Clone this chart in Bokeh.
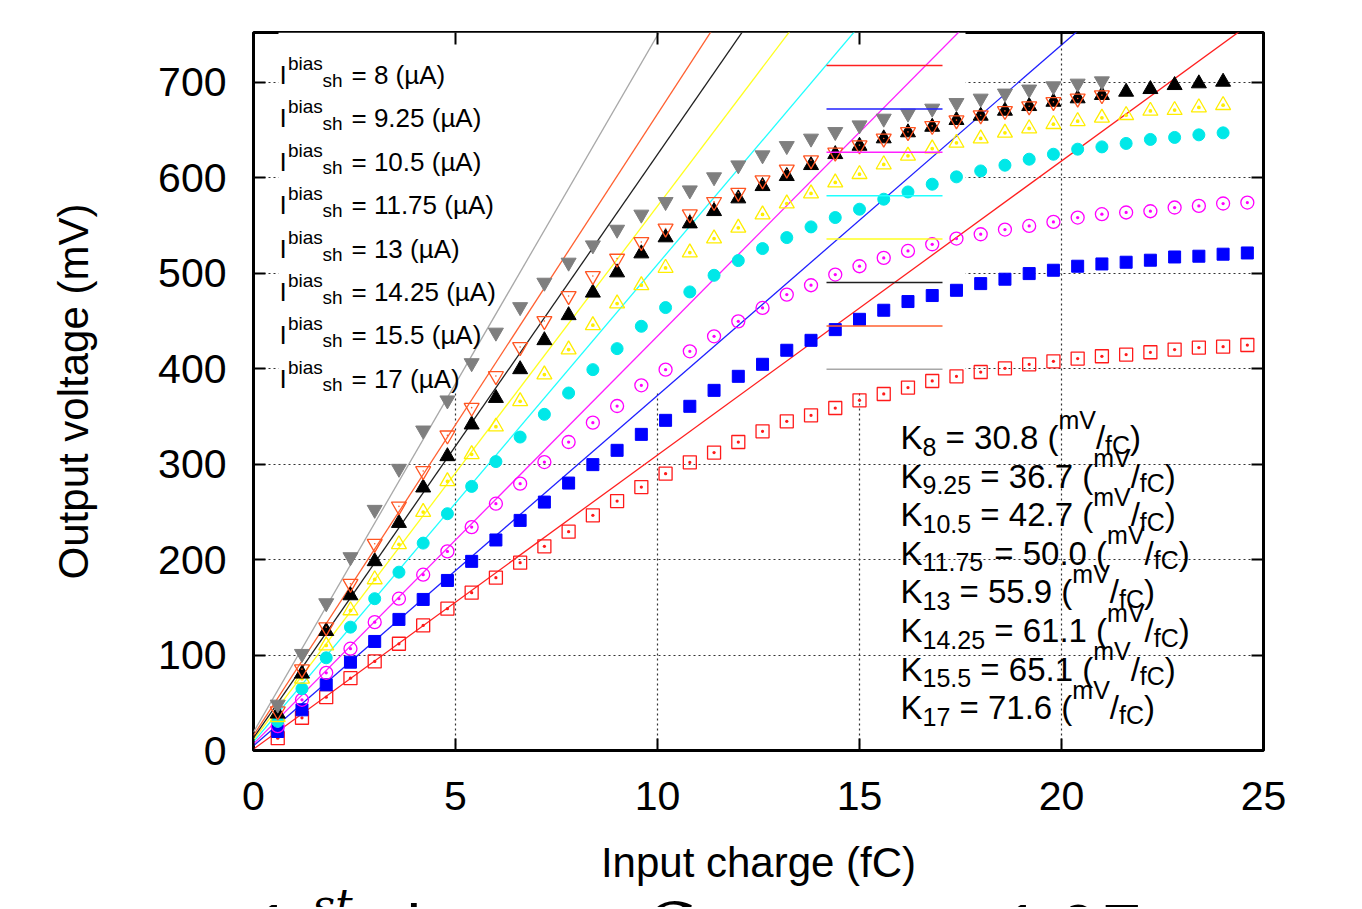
from bokeh.plotting import figure
from bokeh.layouts import column
from bokeh.models import Range1d, LinearAxis, FixedTicker, Label
from bokeh.core.properties import value
from bokeh.embed import file_html
from bokeh.resources import INLINE

# ---------------- data ----------------
charge_fc = [0.6, 1.2, 1.8, 2.4, 3.0, 3.6, 4.2, 4.8, 5.4, 6.0, 6.6, 7.2, 7.8, 8.4,
             9.0, 9.6, 10.2, 10.8, 11.4, 12.0, 12.6, 13.2, 13.8, 14.4, 15.0, 15.6,
             16.2, 16.8, 17.4, 18.0, 18.6, 19.2, 19.8, 20.4, 21.0, 21.6, 22.2, 22.8,
             23.4, 24.0, 24.6]

bias_labels = ["8", "9.25", "10.5", "11.75", "13", "14.25", "15.5", "17"]
gain_labels = ["30.8", "36.7", "42.7", "50.0", "55.9", "61.1", "65.1", "71.6"]
fit_slope = [30.8, 36.7, 42.7, 50.0, 55.9, 61.1, 65.1, 73.0]
fit_intercept = [1.4, 4.9, 7.0, 9.1, 11.2, 13.3, 15.7, 19.2]

v_8 = [12.9, 34.3, 55.9, 75.8, 93.3, 111.8, 131.0, 148.5, 165.3, 181.0, 196.7, 213.8,
       229.2, 246.3, 261.2, 275.9, 289.9, 301.8, 312.0, 323.1, 334.3, 344.8, 351.0,
       358.7, 366.8, 373.4, 380.1, 387.0, 391.9, 396.4, 400.3, 404.5, 407.6, 410.5,
       412.9, 414.7, 417.1, 419.9, 422.0, 423.0, 424.7]
v_9_25 = [19.9, 42.6, 68.8, 92.5, 114.2, 137.3, 158.2, 178.1, 198.1, 220.5, 241.0,
          260.2, 280.1, 299.4, 314.4, 331.1, 345.8, 360.5, 377.2, 391.9, 404.5, 419.2,
          429.6, 440.8, 451.6, 461.1, 470.2, 476.5, 482.0, 489.0, 493.6, 499.5, 503.0,
          507.2, 509.6, 511.4, 513.5, 516.9, 517.7, 519.8, 521.1]
v_10_5 = [25.5, 53.1, 81.4, 106.6, 134.4, 159.0, 184.1, 208.5, 234.0, 258.5, 279.5,
          302.1, 323.1, 343.4, 360.8, 382.5, 398.9, 418.1, 433.8, 449.5, 463.5, 477.5,
          487.3, 498.5, 507.2, 515.9, 523.2, 530.2, 536.2, 540.7, 545.6, 549.4, 553.6,
          558.2, 561.7, 563.5, 564.8, 568.7, 570.4, 572.9, 573.9]
v_11_75 = [30.5, 64.7, 97.1, 129.2, 159.0, 186.8, 217.2, 248.0, 276.6, 302.6, 328.3,
           352.1, 374.4, 398.9, 420.9, 444.3, 463.9, 480.3, 497.7, 513.1, 525.7, 537.2,
           548.4, 558.2, 566.9, 577.4, 585.0, 593.1, 600.8, 607.0, 613.0, 619.3, 624.5,
           629.8, 632.2, 635.8, 640.0, 642.1, 644.8, 646.9]
v_13 = [34.9, 75.1, 110.0, 146.7, 179.2, 215.9, 249.7, 281.9, 310.2, 339.2, 365.7,
        393.7, 419.9, 445.4, 468.1, 487.3, 505.4, 521.5, 536.2, 547.5, 561.4, 572.9,
        583.4, 594.9, 603.6, 613.8, 622.8, 630.5, 636.4, 641.0, 646.9, 651.5, 656.0,
        659.1, 662.6, 665.4, 669.9, 670.7, 673.5, 675.9]
v_14_25 = [38.5, 80.4, 125.0, 162.4, 198.1, 238.2, 275.3, 308.1, 341.3, 369.1, 399.2,
           429.6, 455.8, 479.4, 500.6, 520.5, 537.3, 551.9, 564.8, 578.1, 591.0, 601.5,
           613.0, 624.5, 633.2, 641.0, 647.3, 653.1, 660.2, 664.7, 669.9, 674.8, 679.3,
           682.9, 686.4, 689.8, 692.6, 696.8, 698.6, 700.3]
v_15_5 = [41.2, 85.2, 129.2, 174.7, 216.6, 255.7, 292.7, 330.1, 359.1, 392.2, 422.6,
          449.9, 476.0, 497.0, 515.2, 532.6, 546.7, 561.7, 574.6, 584.2, 597.3, 608.5,
          618.3, 626.3, 634.0, 641.0, 647.9, 654.2, 660.2, 665.4, 669.9, 674.8, 679.3,
          682.9, 686.4]
v_17 = [48.2, 101.3, 154.4, 202.6, 252.2, 295.2, 335.3, 366.8, 405.8, 437.8, 464.5,
        490.1, 511.1, 529.2, 545.6, 561.4, 574.6, 586.8, 600.5, 613.0, 623.5, 633.2,
        641.0, 647.9, 654.9, 661.9, 667.2, 672.4, 678.3, 682.9, 688.2, 692.4, 695.8,
        698.6, 701.0]

series_values = [v_8, v_9_25, v_10_5, v_11_75, v_13, v_14_25, v_15_5, v_17]

x_ticks = [0, 5, 10, 15, 20, 25]
y_ticks = [0, 100, 200, 300, 400, 500, 600, 700]

x_title = "Input charge (fC)"
y_title = "Output voltage (mV)"

# ---------------- styles ----------------
point_colors = ["#ff1a1a", "#0000ff", "#ff00ff", "#00e8e8", "#ffee00", "#000000", "#ff5522", "#7f7f7f"]
line_colors = ["#ff2020", "#2020ff", "#ff20ff", "#20ffff", "#ffff20", "#202020", "#ff6030", "#a8a8a8"]
markers = ["square_dot", "square", "circle_dot", "circle", "triangle_dot", "triangle",
           "inverted_triangle", "inverted_triangle"]
filled = [False, True, False, True, False, True, False, True]
sizes = [13, 12, 13, 12, 15, 15, 15, 15]

FONT = "Liberation Sans"
W = 1362
H1 = 830          # main figure height
H2 = 77           # caption strip height

# page-pixel geometry of the plotting frame (for annotation placement only)
FL, FT, FR, FB = 253, 32, 1263, 750
X_MAX, Y_MAX = 25.0, 752.0


def dx(px):
    return (px - FL) * X_MAX / (FR - FL)


def dy(py):
    return (FB - py) * Y_MAX / (FB - FT)


AW = {' ': 278, '(': 333, ')': 333, '.': 278, '/': 278, '=': 584, 'K': 667, 'V': 667,
      'C': 722, 'm': 833, 'f': 278, 'A': 667}


def tw(s, size):
    return sum(AW.get(c, 556) for c in s) * size / 1000.0


def lab(px, py, txt, size, font=FONT, style="normal"):
    lead = len(txt) - len(txt.lstrip(" "))
    return Label(x=dx(px + tw(" " * lead, size)), y=dy(py), text=txt.strip(" "),
                 text_font=font, text_font_size="%gpx" % size, text_font_style=style,
                 text_color="black", text_baseline="alphabetic", text_align="left")


p = figure(width=W, height=H1, x_range=Range1d(0, X_MAX), y_range=Range1d(0, Y_MAX),
           output_backend="svg", toolbar_location=None,
           min_border_left=FL, min_border_right=W - FR,
           min_border_top=FT, min_border_bottom=H1 - FB)
p.background_fill_color = "white"
p.border_fill_color = "white"
p.outline_line_color = "black"
p.outline_line_width = 3

# axes
for ax in (p.xaxis[0], p.yaxis[0]):
    ax.axis_line_color = None
    ax.major_tick_in = 12
    ax.major_tick_out = 0
    ax.major_tick_line_width = 2
    ax.minor_tick_line_color = None
    ax.major_label_text_font = FONT
    ax.major_label_text_font_size = "41px"
    ax.major_label_text_color = "black"
    ax.axis_label_text_font = FONT
    ax.axis_label_text_font_size = "42px"
    ax.axis_label_text_font_style = "normal"
    ax.axis_label_text_color = "black"
p.xaxis.ticker = FixedTicker(ticks=x_ticks)
p.yaxis.ticker = FixedTicker(ticks=y_ticks)
p.yaxis.axis_label = y_title
p.xaxis.major_label_standoff = 31
p.yaxis.major_label_standoff = 27
p.yaxis.axis_label_standoff = 58

for loc, tks in (("right", y_ticks), ("above", x_ticks)):
    ax = LinearAxis(ticker=FixedTicker(ticks=tks), axis_line_color=None,
                    major_tick_in=12, major_tick_out=0, major_tick_line_width=2,
                    minor_tick_line_color=None,
                    major_label_overrides={t: "" for t in tks})
    p.add_layout(ax, loc)

# grid
p.xgrid.ticker = FixedTicker(ticks=x_ticks[1:-1])
p.ygrid.ticker = FixedTicker(ticks=y_ticks[1:])
for g in (p.xgrid[0], p.ygrid[0]):
    g.grid_line_color = "#333333"
    g.grid_line_dash = "2 3"
    g.grid_line_width = 1.2

# opaque key box (hides the grid behind the key)
p.quad(left=[dx(278)], right=[dx(965)], bottom=[dy(392)], top=[Y_MAX],
       fill_color="white", line_color=None)

# fit lines
for i in range(8):
    xs = [0, X_MAX]
    ys = [fit_intercept[i] + fit_slope[i] * x for x in xs]
    p.line(xs, ys, line_color=line_colors[i], line_width=1.3)

# points
for i, vals in enumerate(series_values):
    xs = charge_fc[:len(vals)]
    if filled[i]:
        p.scatter(xs, vals, marker=markers[i], size=sizes[i], fill_color=point_colors[i],
                  line_color=point_colors[i], line_width=1)
    else:
        p.scatter(xs, vals, marker=markers[i], size=sizes[i], fill_color=None,
                  line_color=point_colors[i], line_width=1.3)
        if markers[i] == "inverted_triangle":
            p.scatter(xs, vals, marker="circle", size=1.6, fill_color=point_colors[i],
                      line_color=None)

# key: text + sample lines
for i, b in enumerate(bias_labels):
    yc = 65 + 43.4 * i
    p.add_layout(lab(279, yc + 9.5, "I", 26))
    p.add_layout(lab(287.5, yc - 2, "bias", 19))
    p.add_layout(lab(322, yc + 15, "sh", 19))
    p.add_layout(lab(351, yc + 9.5, "= %s (\u00b5A)" % b, 26))
    p.segment(x0=[dx(826)], x1=[dx(942)], y0=[dy(yc)], y1=[dy(yc)],
              line_color=line_colors[i], line_width=1.5)

# gain annotations
MAIN, SCR = 33, 25
for i, (b, k) in enumerate(zip(bias_labels, gain_labels)):
    base = 437 + 38.6 * i
    x = 900.0
    pieces = [("K", MAIN, 0), (b, SCR, 9), (" = %s (" % k, MAIN, 0), ("mV", SCR, -18),
              ("/", MAIN, 0), ("fC", SCR, 7), (")", MAIN, 0)]
    for txt, sz, off in pieces:
        p.add_layout(lab(x, base + off, txt, sz))
        x += tw(txt, sz)

# ---------------- strip below: x title + cut-off caption ----------------
# its frame lines up with the main frame; coordinates here are page pixels
p2 = figure(width=W, height=H2, x_range=Range1d(FL, FR), y_range=Range1d(H1 + H2, H1),
            output_backend="svg", toolbar_location=None,
            x_axis_location=None, y_axis_location=None,
            min_border_left=FL, min_border_right=W - FR, min_border_top=0, min_border_bottom=0)
p2.outline_line_color = None
p2.grid.visible = False
p2.background_fill_color = "white"
p2.border_fill_color = "white"

p2.text(x=[(FL + FR) / 2], y=[862], text=[x_title], text_font=value(FONT),
        text_font_size=value("42px"), text_align="center", text_baseline="middle",
        text_color="black")

cap_base = 927
for txt, px, sz, off, font, style in [
        ("1", 254, 66, 0, FONT, "normal"),
        ("st", 312, 44, -22, "DejaVu Serif", "italic"),
        ("layout,", 406, 66, 0, FONT, "normal"),
        ("C", 642, 66, 0, "DejaVu Serif", "italic"),
        ("f", 700, 44, 14, "DejaVu Serif", "italic"),
        ("=", 900, 66, 0, FONT, "normal"),
        ("1.6", 1003, 66, 0, FONT, "normal"),
        ("pF", 1063, 66, 0, FONT, "normal")]:
    p2.text(x=[px], y=[cap_base + off], text=[txt], text_font=value(font),
            text_font_size=value("%dpx" % sz), text_font_style=style,
            text_align="left", text_baseline="alphabetic", text_color="black")

open("out.html", "w").write(file_html(column(p, p2), INLINE))
